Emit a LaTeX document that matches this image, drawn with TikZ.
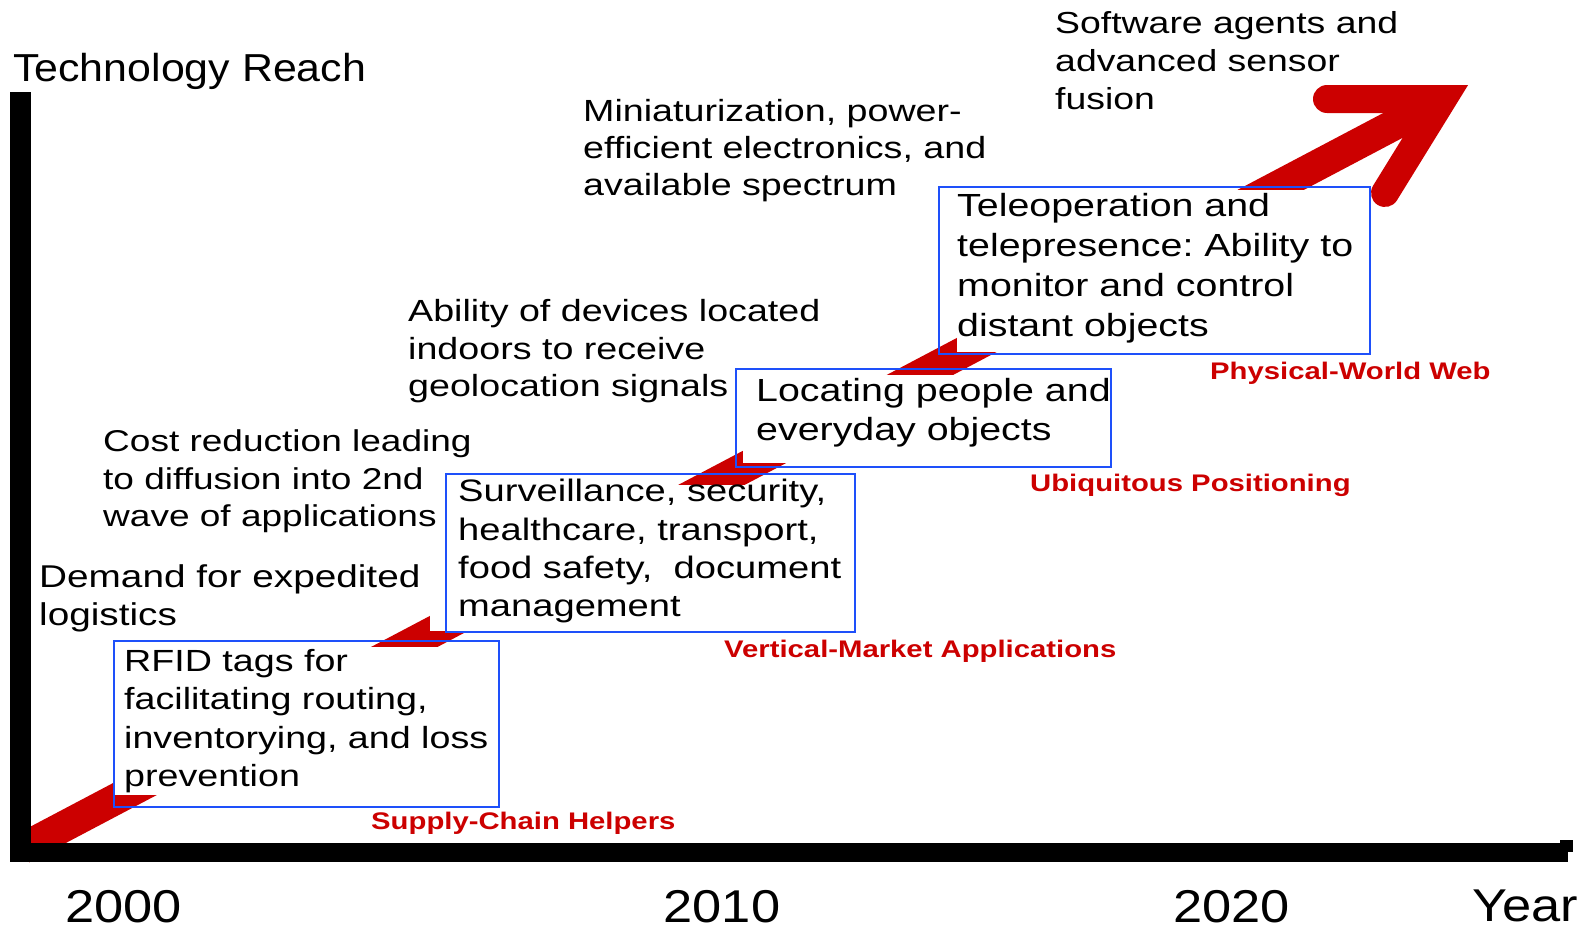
\documentclass[tikz,border=0pt]{standalone}
\usepackage{fontspec}
\setmainfont[FakeStretch=1.23]{Liberation Sans}
\newfontfamily\trfont[FakeStretch=1.1]{Liberation Sans}
\newfontfamily\yrfont[FakeStretch=1.14]{Liberation Sans}
\newfontfamily\lblfont[FakeStretch=1.22]{Liberation Sans}
\definecolor{redc}{RGB}{204,0,0}
\definecolor{bluec}{RGB}{30,80,250}
\newcommand\mlines[2]{\vtop{\baselineskip=#1pt\lineskiplimit=-100pt\halign{##\hfil\cr#2\crcr}}}
\tikzset{
  txt/.style={inner sep=0pt, anchor=base west, text=black, font=\fontsize{30.6}{38}\selectfont},
  bigtxt/.style={txt, font=\fontsize{32}{40}\selectfont},
  lbl/.style={inner sep=0pt, anchor=base west, text=redc, font=\lblfont\bfseries\fontsize{24}{28}\selectfont},
  yr/.style={inner sep=0pt, anchor=base, text=black, font=\yrfont\fontsize{46}{50}\selectfont},
  bluebox/.style={draw=bluec, line width=2pt, inner sep=0pt, anchor=north west},
  band/.style={draw=redc, line width=31pt, line cap=butt},
  head/.style={draw=redc, line width=28pt, line cap=round, line join=miter},
  occl/.style={fill=white},
  axis/.style={draw=black, line cap=butt}
}
\begin{document}
\frenchspacing
\begin{tikzpicture}[x=1pt, y=-1pt]
\useasboundingbox (0,0) rectangle (1594,929);
\fill[white] (0,0) rectangle (1594,929);
% red trend arrow
\coordinate (a0) at (22,848.6);
\coordinate (av) at (1443,99);
\coordinate (h1) at (1327,99);
\coordinate (h2) at (1385,193);
\draw[band] (a0) -- (av);
\draw[head] (h1) -- (av) -- (h2);
% white text frames hiding the arrow
\fill[occl] (113,647) rectangle (497,795);
\fill[occl] (430,485) rectangle (854,631);
\fill[occl] (743,375) rectangle (1110,463);
\fill[occl] (957,190) rectangle (1369,352);
% blue boxes
\node[bluebox, minimum width=385pt, minimum height=166pt] (box1) at (112.5,640) {};
\node[bluebox, minimum width=409pt, minimum height=158pt] (box2) at (445,473) {};
\node[bluebox, minimum width=375pt, minimum height=98pt] (box3) at (735,368) {};
\node[bluebox, minimum width=431pt, minimum height=167pt] (box4) at (938,186) {};
% box texts
\node[txt] (t1) at (124,671) {\mlines{38.5}{RFID tags for\cr facilitating routing,\cr inventorying, and loss\cr prevention}};
\node[txt, font=\fontsize{31}{38}\selectfont] (t2) at (458,501.7) {\mlines{38.4}{Surveillance, security,\cr healthcare, transport,\cr food safety,\ \ document\cr management}};
\node[bigtxt] (t3) at (756,401.5) {\mlines{39.4}{Locating people and\cr everyday objects}};
\node[bigtxt] (t4) at (957,216.7) {\mlines{40}{Teleoperation and\cr telepresence: Ability to\cr monitor and control\cr distant objects}};
% driver texts
\node[txt, font=\fontsize{31.5}{38}\selectfont] (d1) at (39,587) {\mlines{38}{Demand for expedited\cr logistics}};
\node[txt, font=\fontsize{30.1}{38}\selectfont] (d2) at (103,451.7) {\mlines{37.5}{Cost reduction leading\cr to diffusion into 2nd\cr wave of applications}};
\node[txt] (d3) at (408,321.7) {\mlines{37.5}{Ability of devices located\cr indoors to receive\cr geolocation signals}};
\node[txt] (d4) at (583,121) {\mlines{37}{Miniaturization, power-\cr efficient electronics, and\cr available spectrum}};
\node[txt, font=\fontsize{30.4}{38}\selectfont] (d5) at (1055,33.3) {\mlines{38.3}{Software agents and\cr advanced sensor\cr fusion}};
% red phase labels
\node[lbl] (l1) at (371,829) {Supply-Chain Helpers};
\node[lbl] (l2) at (724,657) {Vertical-Market Applications};
\node[lbl] (l3) at (1030,491) {Ubiquitous Positioning};
\node[lbl] (l4) at (1210,379) {Physical-World Web};
% axes
\draw[axis, line width=21pt] (20.5,92) -- (20.5,862);
\draw[axis, line width=19pt] (10,852) -- (1568,852);
\fill[black] (1560,840) rectangle (1573,852);
\node[inner sep=0pt, anchor=base west, font=\trfont\fontsize{39}{43}\selectfont] (ylab) at (13,81) {Technology Reach};
\node[yr] (y2000) at (123.4,922) {2000};
\node[yr] (y2010) at (722,922) {2010};
\node[yr] (y2020) at (1231.5,922) {2020};
\node[inner sep=0pt, anchor=base west, font=\yrfont\fontsize{46}{50}\selectfont] (xlab) at (1472,921) {Year};
\end{tikzpicture}
\end{document}
